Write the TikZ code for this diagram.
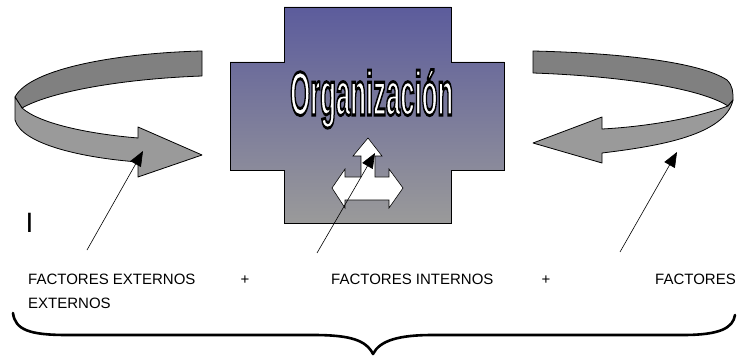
\documentclass[tikz,border=0pt]{standalone}
\usepackage{fontspec}
\setmainfont{Liberation Sans}
\usetikzlibrary{arrows.meta}
\definecolor{backgray}{HTML}{808080}
\definecolor{frontgray}{HTML}{9A9A9A}
\definecolor{crosstop}{HTML}{5C5C9C}
\definecolor{crossbot}{HTML}{9A9A9A}
\newcommand{\orgword}{\scalebox{0.415}[1]{\fontsize{62}{62}\selectfont\bfseries\color{white}\special{pdf:literal direct 0 G 3 w 2 Tr}Organizaci\'on\special{pdf:literal direct 0 Tr 1 w}}}
\begin{document}
\begin{tikzpicture}[x=1pt,y=-1pt,
  backface/.style={fill=backgray,draw=black,line width=0.8pt,line join=round},
  frontface/.style={fill=frontgray,draw=black,line width=0.8pt,line join=round},
  annot/.style={draw=black,line width=0.6pt,-{Triangle[length=15pt,width=12pt]}},
  lbl/.style={inner sep=0pt,anchor=base west,font=\fontsize{15}{18}\selectfont},
  plus/.style={inner sep=0pt,anchor=base,font=\fontsize{15}{18}\selectfont},
  bracepath/.style={draw=black,line width=2.6pt,line cap=round,line join=round}]
\useasboundingbox (0,0) rectangle (746,358);

% ---- left curved arrow
\path[backface] (202,51) .. controls (120,53) and (30,68) .. (15,97)
  -- (22,108) .. controls (50,92) and (120,79) .. (202,76) -- cycle;
\path[frontface] (15,97) -- (15,120) .. controls (22,145) and (85,158) .. (138,162)
  -- (138,177) -- (202,155) -- (138,127) -- (138,138)
  .. controls (90,134) and (40,124) .. (22,108) -- cycle;

% ---- right curved arrow
\path[backface] (533,51) .. controls (620,53) and (700,62) .. (727,80)
  .. controls (733,86) and (733,92) .. (733,100)
  -- (728,106) .. controls (700,88) and (620,76) .. (533,73) -- cycle;
\path[frontface] (728,106) .. controls (690,120) and (640,127) .. (602,129)
  -- (602,117) -- (533,143) -- (602,163) -- (602,153)
  .. controls (660,146) and (725,135) .. (733,100) -- cycle;

% ---- central cross (organization)
\path[top color=crosstop,bottom color=crossbot,draw=black,line width=0.8pt]
  (284,7) -- (451,7) -- (451,62) -- (504,62) -- (504,170) -- (451,170)
  -- (451,223) -- (284,223) -- (284,170) -- (230,170) -- (230,62) -- (284,62) -- cycle;

% ---- outlined title
\node[inner sep=0pt,anchor=base west] (org) at (290,115) {\orgword};

% ---- three-way white arrow
\path[fill=white,draw=black,line width=0.6pt,line join=miter] (368,138) -- (382,156) -- (375,156)
  -- (375,177) -- (389,177) -- (389,169) -- (403,188) -- (389,208) -- (389,200)
  -- (345,200) -- (345,208) -- (332,188) -- (345,169) -- (345,177) -- (361,177)
  -- (361,156) -- (353,156) -- cycle;

% ---- annotation arrows
\coordinate (a1s) at (87,250);  \coordinate (a1e) at (143,151);
\coordinate (a2s) at (317,253); \coordinate (a2e) at (375,153);
\coordinate (a3s) at (620,252); \coordinate (a3e) at (677,152);
\draw[annot] (a1s) -- (a1e);
\draw[annot] (a2s) -- (a2e);
\draw[annot] (a3s) -- (a3e);

% ---- texts
\node[inner sep=0pt,anchor=base west,font=\fontsize{28}{30}\selectfont] (cursor) at (25.5,232) {I};
\node[lbl] (fext) at (28,284) {FACTORES EXTERNOS};
\node[lbl] (fext2) at (28,308) {EXTERNOS};
\node[plus] (plus1) at (245,284) {+};
\node[lbl] (fint) at (331,284) {FACTORES INTERNOS};
\node[plus] (plus2) at (546,284) {+};
\node[lbl] (ffac) at (655,284) {FACTORES};

% ---- bottom brace
\coordinate (bl) at (13,313);
\coordinate (btip) at (373,354);
\coordinate (br) at (735,315);
\draw[bracepath] (bl) .. controls (15,330) and (30,335) .. (67,335) -- (313,335)
  .. controls (350,335) and (366,340) .. (btip)
  .. controls (380,340) and (400,335) .. (433,335) -- (683,335)
  .. controls (720,335) and (733,328) .. (br);
\end{tikzpicture}
\end{document}
